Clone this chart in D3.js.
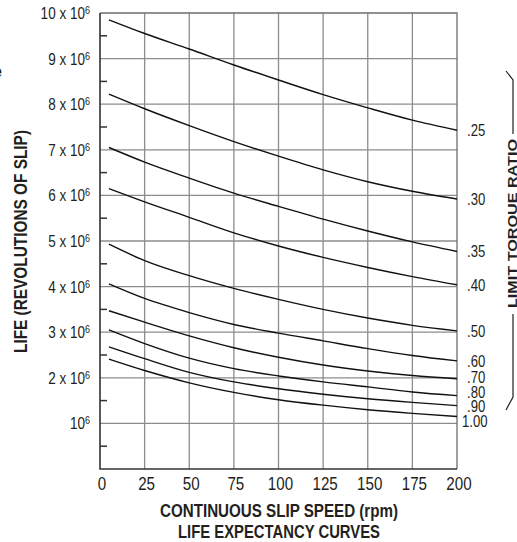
<!DOCTYPE html>
<html>
<head>
<meta charset="utf-8">
<script src="https://cdn.jsdelivr.net/npm/d3@7"></script>
<style>
body{margin:0;background:#fff;}
text{font-family:"Liberation Sans",Arial,sans-serif;fill:#231f20;}
</style>
</head>
<body>
<div id="chart"></div>
<script>
let width = 517;
let height = 542;

// slip speed (rpm) where values were read
const speeds = [5, 25, 50, 75, 100, 125, 150, 175, 200];

// life in millions of revolutions, one array per limit torque ratio
const life025 = [9.85, 9.55, 9.21, 8.86, 8.53, 8.21, 7.92, 7.65, 7.43];
const life030 = [8.22, 7.90, 7.53, 7.18, 6.86, 6.56, 6.30, 6.09, 5.92];
const life035 = [7.05, 6.73, 6.38, 6.05, 5.76, 5.48, 5.22, 4.98, 4.77];
const life040 = [6.15, 5.86, 5.52, 5.18, 4.89, 4.64, 4.42, 4.22, 4.04];
const life050 = [4.93, 4.57, 4.24, 3.96, 3.72, 3.50, 3.31, 3.15, 3.03];
const life060 = [4.06, 3.74, 3.43, 3.17, 2.98, 2.81, 2.64, 2.49, 2.37];
const life070 = [3.47, 3.22, 2.92, 2.66, 2.45, 2.28, 2.15, 2.05, 1.98];
const life080 = [3.05, 2.75, 2.43, 2.20, 2.04, 1.91, 1.80, 1.69, 1.61];
const life090 = [2.68, 2.42, 2.12, 1.91, 1.76, 1.64, 1.54, 1.46, 1.39];
const life100 = [2.41, 2.16, 1.89, 1.68, 1.52, 1.40, 1.30, 1.22, 1.15];

const ratioLabels = [".25", ".30", ".35", ".40", ".50", ".60", ".70", ".80", ".90", "1.00"];
const series = [life025, life030, life035, life040, life050, life060, life070, life080, life090, life100];

const xTicks = [0, 25, 50, 75, 100, 125, 150, 175, 200];
const yTicks = [1, 2, 3, 4, 5, 6, 7, 8, 9, 10];
const yMinor = [0.5, 1.5, 2.5, 3.5, 4.5, 5.5, 6.5, 7.5, 8.5, 9.5];

// the original uses a condensed face; squeeze the regular one
const squeeze = 0.82;

let svg = d3.select("#chart").append("svg")
            .attr("width", width)
            .attr("height", height);

let x = d3.scaleLinear().domain([0, 200]).range([100, 457]);
let y = d3.scaleLinear().domain([0, 10]).range([469, 13]);

// grid
svg.append("g")
   .selectAll("line")
   .data(xTicks.slice(1, -1))
   .join("line")
   .attr("x1", d => x(d)).attr("x2", d => x(d))
   .attr("y1", y(0)).attr("y2", y(10))
   .attr("stroke", "#8c8c8c").attr("stroke-width", 1.3);

svg.append("g")
   .selectAll("line")
   .data(yTicks.slice(0, -1))
   .join("line")
   .attr("x1", x(0)).attr("x2", x(200))
   .attr("y1", d => y(d)).attr("y2", d => y(d))
   .attr("stroke", "#8c8c8c").attr("stroke-width", 1.3);

// frame
svg.append("path")
   .attr("d", "M" + x(0) + "," + y(10) + "H" + x(200) + "V" + y(0))
   .attr("fill", "none").attr("stroke", "#6e6e6e").attr("stroke-width", 1.3);
svg.append("path")
   .attr("d", "M" + x(0) + "," + y(10) + "V" + y(0) + "H" + x(200))
   .attr("fill", "none").attr("stroke", "#333").attr("stroke-width", 1.6);

// minor ticks inside the left axis
svg.append("g")
   .selectAll("line")
   .data(yMinor)
   .join("line")
   .attr("x1", x(0)).attr("x2", x(0) + 7)
   .attr("y1", d => y(d)).attr("y2", d => y(d))
   .attr("stroke", "#333").attr("stroke-width", 1.5);

// y tick labels with superscript
let yl = svg.append("g")
   .selectAll("text")
   .data(yTicks)
   .join("text")
   .attr("transform", d => "translate(90," + y(d) + ") scale(" + squeeze + ",1)")
   .attr("dy", "0.36em")
   .attr("text-anchor", "end")
   .style("font-size", "16.5px");
yl.append("tspan").text(d => d == 1 ? "10" : d + " x 10");
yl.append("tspan").text("6").attr("dy", "-0.45em").style("font-size", "11px");

// x tick labels
svg.append("g")
   .selectAll("text")
   .data(xTicks)
   .join("text")
   .attr("transform", d => "translate(" + (x(d) + 2) + ",490) scale(" + squeeze + ",1)")
   .attr("text-anchor", "middle")
   .style("font-size", "18.5px")
   .text(d => d);

// curves
let line = d3.line()
             .x((d, i) => x(speeds[i]))
             .y(d => y(d))
             .curve(d3.curveMonotoneX);

svg.append("g")
   .selectAll("path")
   .data(series)
   .join("path")
   .attr("d", d => line(d))
   .attr("fill", "none")
   .attr("stroke", "#111")
   .attr("stroke-width", 1.4);

// ratio labels at curve ends, nudged apart so they don't overlap
let labelY = series.map(s => y(s[s.length - 1]));
for (let k = 0; k < 30; k++) {
    for (let i = 1; i < labelY.length; i++) {
        let gap = labelY[i] - labelY[i - 1];
        if (gap < 14.6) {
            let push = (14.6 - gap) / 2;
            labelY[i - 1] -= push;
            labelY[i] += push;
        }
    }
}

svg.append("g")
   .selectAll("text")
   .data(ratioLabels)
   .join("text")
   .attr("transform", (d, i) => "translate(" + (d == "1.00" ? 462 : 467) + "," + labelY[i] + ") scale(" + squeeze + ",1)")
   .attr("dy", "0.36em")
   .style("font-size", "16px")
   .text(d => d);

// axis titles
svg.append("text")
   .attr("x", 279).attr("y", 516.5)
   .attr("text-anchor", "middle")
   .attr("textLength", 238).attr("lengthAdjust", "spacingAndGlyphs")
   .style("font-size", "19px").style("font-weight", "bold")
   .text("CONTINUOUS SLIP SPEED (rpm)");

svg.append("text")
   .attr("x", 279).attr("y", 538)
   .attr("text-anchor", "middle")
   .attr("textLength", 202).attr("lengthAdjust", "spacingAndGlyphs")
   .style("font-size", "18px").style("font-weight", "bold")
   .text("LIFE EXPECTANCY CURVES");

svg.append("text")
   .attr("transform", "translate(26.5,241.5) rotate(-90)")
   .attr("text-anchor", "middle")
   .attr("textLength", 223).attr("lengthAdjust", "spacingAndGlyphs")
   .style("font-size", "19px").style("font-weight", "bold")
   .text("LIFE (REVOLUTIONS OF SLIP)");

svg.append("text")
   .attr("transform", "translate(517,223.5) rotate(-90)")
   .attr("text-anchor", "middle")
   .attr("textLength", 169).attr("lengthAdjust", "spacingAndGlyphs")
   .style("font-size", "13.5px").style("font-weight", "bold")
   .text("LIMIT TORQUE RATIO");

// bracket round the ratio labels
svg.append("path")
   .attr("d", "M506,71L513,80V134M513,314V397L506,410")
   .attr("fill", "none").attr("stroke", "#231f20").attr("stroke-width", 1.2);

// clipped glyph at the far left edge
svg.append("text")
   .attr("x", -7).attr("y", 77)
   .style("font-size", "16px").style("font-weight", "bold")
   .text("e");
</script>
</body>
</html>
